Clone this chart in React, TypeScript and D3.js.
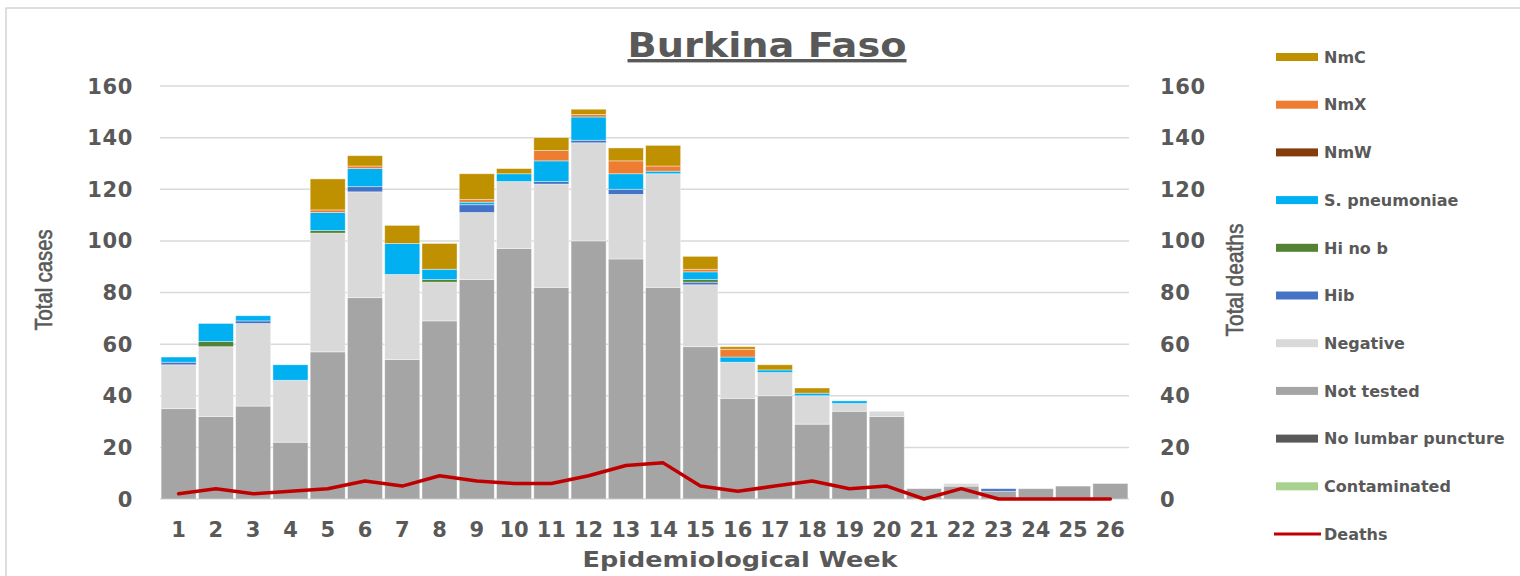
import React from 'react';
import * as d3 from 'd3';

// data
const weeks = ['1','2','3','4','5','6','7','8','9','10','11','12','13','14','15','16','17','18','19','20','21','22','23','24','25','26'];
const contaminated = [0,0,0,0,0,0,0,0,0,0,0,0,0,0,0,0,0,0,0,0,0,0,0,0,0,0];
const noLumbar = [0,0,0,0,0,0,0,0,0,0,0,0,0,0,0,0,0,0,0,0,0,0,0,0,0,0];
const notTested = [35,32,36,22,57,78,54,69,85,97,82,100,93,82,59,39,40,29,34,32,4,5,3,4,5,6];
const negative = [17,27,32,24,46,41,33,15,26,26,40,38,25,44,24,14,9,11,3,2,0,1,0,0,0,0];
const hib = [1,0,1,0,0,2,0,0,3,0,1,1,2,0,1,0,0,0,0,0,0,0,1,0,0,0];
const hiNoB = [0,2,0,0,1,0,0,1,0,0,0,0,0,0,1,0,0,0,0,0,0,0,0,0,0,0];
const sPneumo = [2,7,2,6,7,7,12,4,1,3,8,9,6,1,3,2,1,1,1,0,0,0,0,0,0,0];
const nmW = [0,0,0,0,0,0,0,0,0,0,0,0,0,0,0,0,0,0,0,0,0,0,0,0,0,0];
const nmX = [0,0,0,0,1,1,0,0,1,0,4,1,5,2,1,3,0,0,0,0,0,0,0,0,0,0];
const nmC = [0,0,0,0,12,4,7,10,10,2,5,2,5,8,5,1,2,2,0,0,0,0,0,0,0,0];
const deaths = [2,4,2,3,4,7,5,9,7,6,6,9,13,14,5,3,5,7,4,5,0,4,0,0,0,0];
const yTicks = [0,20,40,60,80,100,120,140,160];

// bottom to top stacking order
const seriesNames = ['Contaminated','No lumbar puncture','Not tested','Negative','Hib','Hi no b','S. pneumoniae','NmW','NmX','NmC'];
const seriesValues = [contaminated, noLumbar, notTested, negative, hib, hiNoB, sPneumo, nmW, nmX, nmC];
const seriesColors = ['#A9D18E','#595959','#A5A5A5','#D9D9D9','#4472C4','#548235','#00B0F0','#843C0C','#ED7D31','#BF9000'];

const W = 1520, H = 576;
const plot = {left: 160, right: 1129, top: 86, bottom: 499};
const txt = '#595959';
const boldFont = '"DejaVu Sans", Verdana, sans-serif';
const titleFont = '"Liberation Sans", Arial, sans-serif';

export default function App() {
    const x = d3.scaleBand().domain(weeks).range([plot.left, plot.right]).paddingInner(0.06).paddingOuter(0.03);
    const y = d3.scaleLinear().domain([0, 160]).range([plot.bottom, plot.top]);
    const yRight = d3.scaleLinear().domain([0, 160]).range([plot.bottom, plot.top]);

    const table = weeks.map((w, i) => {
        const row: any = {week: w};
        seriesNames.forEach((n, k) => { row[n] = seriesValues[k][i]; });
        return row;
    });
    const stacked = d3.stack().keys(seriesNames)(table);

    const line = d3.line<number>()
        .x((d, i) => (x(weeks[i]) as number) + x.bandwidth() / 2)
        .y((d) => yRight(d));

    // legend goes top to bottom in reverse stacking order, deaths last
    const legendItems = seriesNames.map((n, k) => ({name: n, color: seriesColors[k]})).reverse();
    const legendY = d3.scaleLinear().domain([0, 10]).range([57, 534]);

    return (
        <svg width={W} height={H} style={{position: 'absolute', left: 0, top: 0, background: '#fff'}}>
            <rect x={6} y={8} width={W} height={H} fill="#fff" stroke="#c8c8c8" strokeWidth={1.2} />

            <text x={767} y={57} textAnchor="middle" fontFamily={boldFont} fontWeight="bold" fontSize={34}
                  textLength={279} lengthAdjust="spacingAndGlyphs"
                  fill={txt} style={{textDecoration: 'underline'}}>Burkina Faso</text>

            {yTicks.map((t) => (
                <line key={'g' + t} x1={plot.left} x2={plot.right} y1={y(t)} y2={y(t)} stroke="#d9d9d9" strokeWidth={1.5} />
            ))}

            {stacked.map((s, k) => (
                <g key={s.key} fill={seriesColors[k]}>
                    {s.map((d, i) => (d[1] - d[0] > 0 ? (
                        <rect key={i} x={x(weeks[i])} y={y(d[1])} width={x.bandwidth()} height={y(d[0]) - y(d[1])}
                              stroke="#ffffff" strokeOpacity={0.5} strokeWidth={0.8} />
                    ) : null))}
                </g>
            ))}

            <path d={line(deaths) || ''} fill="none" stroke="#C00000" strokeWidth={3.5} strokeLinejoin="round" strokeLinecap="round" />

            {yTicks.map((t) => (
                <text key={'l' + t} x={133} y={y(t)} dy="0.36em" textAnchor="end" fontFamily={boldFont} fontWeight="bold"
                      fontSize={21} letterSpacing={0.6} fill={txt}>{t}</text>
            ))}
            {yTicks.map((t) => (
                <text key={'r' + t} x={1160} y={yRight(t)} dy="0.36em" textAnchor="start" fontFamily={boldFont} fontWeight="bold"
                      fontSize={21} letterSpacing={0.6} fill={txt}>{t}</text>
            ))}
            {weeks.map((w) => (
                <text key={'x' + w} x={(x(w) as number) + x.bandwidth() / 2} y={537} textAnchor="middle" fontFamily={boldFont}
                      fontWeight="bold" fontSize={21} fill={txt}>{w}</text>
            ))}

            <text x={740} y={567} textAnchor="middle" fontFamily={boldFont} fontWeight="bold"
                  fontSize={21} textLength={315} lengthAdjust="spacingAndGlyphs" fill={txt}>Epidemiological Week</text>
            <text transform="translate(52,280) rotate(-90)" textAnchor="middle" fontFamily={titleFont} fontSize={24}
                  textLength={101} lengthAdjust="spacingAndGlyphs" fill={txt} stroke={txt} strokeWidth={0.6}>Total cases</text>
            <text transform="translate(1243,280) rotate(-90)" textAnchor="middle" fontFamily={titleFont} fontSize={24}
                  textLength={113} lengthAdjust="spacingAndGlyphs" fill={txt} stroke={txt} strokeWidth={0.6}>Total deaths</text>

            {legendItems.map((it, i) => (
                <g key={it.name} transform={`translate(0,${legendY(i)})`}>
                    <rect x={1276} y={-4} width={42} height={8} fill={it.color} />
                    <text x={1324} y={0} dy="0.36em" fontFamily={boldFont} fontWeight="bold" fontSize={16} fill={txt}>{it.name}</text>
                </g>
            ))}
            <g transform={`translate(0,${legendY(10)})`}>
                <line x1={1274} x2={1321} y1={0} y2={0} stroke="#C00000" strokeWidth={3} />
                <text x={1324} y={0} dy="0.36em" fontFamily={boldFont} fontWeight="bold" fontSize={16} fill={txt}>Deaths</text>
            </g>
        </svg>
    );
}
